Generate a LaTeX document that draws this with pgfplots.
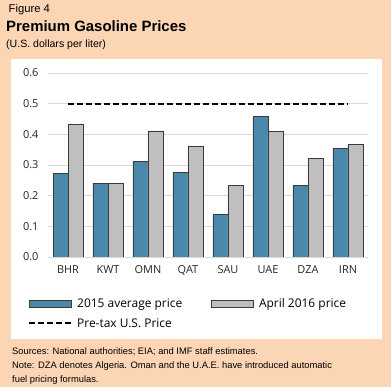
\documentclass[border=0pt]{standalone}
\usepackage{pgfplots}
\pgfplotsset{compat=1.18}
\usepackage{fontspec}
\setmainfont{Liberation Sans}
\newfontfamily\uifont{Open Sans}
\definecolor{peach}{HTML}{FCD5B4}
\definecolor{barblue}{HTML}{4A89AC}
\definecolor{bargray}{HTML}{BFBFBF}
\definecolor{edge}{HTML}{3A3A3A}
\definecolor{gridc}{HTML}{D9D9D9}
\pgfplotsset{
  barlegend/.style={legend image code/.code={\draw[##1] (0bp,-3.5bp) rectangle (42bp,3.5bp);}},
  linelegend/.style={legend image code/.code={\draw[##1] (0bp,0bp) -- (42bp,0bp);}},
}
\begin{document}
\begin{tikzpicture}
\fill[peach] (0bp,0bp) rectangle (391bp,387bp);
\fill[white] (11bp,48bp) rectangle (382bp,328bp);
\node[anchor=base west,inner sep=0pt,font=\fontsize{11.3}{13}\selectfont] at (8.5bp,374.5bp) {Figure 4};
\node[anchor=base west,inner sep=0pt,font=\fontsize{15}{17}\selectfont\bfseries] at (6bp,355bp) {Premium Gasoline Prices};
\node[anchor=base west,inner sep=0pt,font=\fontsize{10.6}{12}\selectfont] at (6bp,339bp) {(U.S. dollars per liter)};
\node[anchor=base west,inner sep=0pt,font=\fontsize{9.4}{10}\selectfont] at (12bp,33bp) {Sources: National authorities; EIA; and IMF staff estimates.};
\node[anchor=base west,inner sep=0pt,font=\fontsize{9.4}{10}\selectfont] at (12bp,19bp) {Note: DZA denotes Algeria. Oman and the U.A.E. have introduced automatic};
\node[anchor=base west,inner sep=0pt,font=\fontsize{9.4}{10}\selectfont] at (12bp,5bp) {fuel pricing formulas.};
\begin{axis}[
  at={(48bp,130bp)}, anchor=south west,
  scale only axis, width=320bp, height=184bp,
  xmin=-0.5, xmax=7.5, ymin=0, ymax=0.6,
  xtick={0,...,7},
  xticklabels={BHR,KWT,OMN,QAT,SAU,UAE,DZA,IRN},
  ytick={0,0.1,...,0.6},
  /pgf/number format/fixed, /pgf/number format/fixed zerofill,
  /pgf/number format/precision=1, /pgf/number format/assume math mode=true,
  yticklabel style={xshift=-6bp},
  xticklabel style={yshift=-5bp},
  tick label style={font=\uifont\fontsize{11}{13}\selectfont, text=black!85},
  major tick length=0pt,
  axis line style={draw=none},
  ymajorgrids, grid style={gridc, line width=0.8pt},
  ybar, bar width=15bp, 
  legend columns=2,
  legend style={at={(-0.0625,-0.215)}, anchor=north west, draw=none, fill=none,
    font=\uifont\fontsize{12}{14}\selectfont, inner sep=0pt, row sep=5bp,
    /tikz/every odd column/.append style={column sep=3bp},
    /tikz/every even column/.append style={column sep=27bp},
    nodes={inner sep=2bp}},
  legend cell align=left,
]
\addplot[ybar, bar shift=-7.5bp, fill=barblue, draw=edge, line width=0.8pt, barlegend]
  coordinates {(0,0.272) (1,0.241) (2,0.312) (3,0.277) (4,0.139) (5,0.457) (6,0.232) (7,0.355)};
\addlegendentry{2015 average price}
\addplot[ybar, bar shift=7.5bp, fill=bargray, draw=edge, line width=0.8pt, barlegend]
  coordinates {(0,0.432) (1,0.241) (2,0.411) (3,0.360) (4,0.232) (5,0.408) (6,0.321) (7,0.367)};
\addlegendentry{April 2016 price}
\addplot[sharp plot, black, line width=2pt, dash pattern=on 5.5bp off 3.5bp, linelegend]
  coordinates {(0,0.5) (7,0.5)};
\addlegendentry{Pre-tax U.S. Price}
\end{axis}
\end{tikzpicture}
\end{document}
